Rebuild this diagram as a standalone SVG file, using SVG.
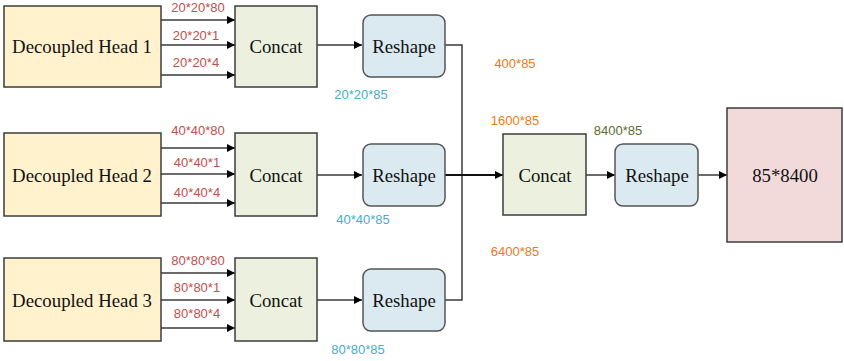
<svg xmlns="http://www.w3.org/2000/svg" width="844" height="361" viewBox="0 0 844 361">
<defs>
<marker id="ah" markerWidth="10" markerHeight="10" refX="9" refY="5" orient="auto" markerUnits="userSpaceOnUse">
<path d="M1,1 L9,5 L1,9 Z" fill="#000"/>
</marker>
<style>
.head{fill:#fff2cc;stroke:#3c3c3c;stroke-width:1.5}
.cat{fill:#ebf1de;stroke:#3c3c3c;stroke-width:1.5}
.rs{fill:#dbe9f1;stroke:#555;stroke-width:1.5}
.out{fill:#f3dada;stroke:#3c3c3c;stroke-width:1.5}
.nt{font-family:"Liberation Serif",serif;font-size:18.8px;fill:#111;text-anchor:middle;dominant-baseline:central}
.lb{font-family:"Liberation Sans",Arial,sans-serif;font-size:13px;text-anchor:middle;dominant-baseline:central}
.red{fill:#c0504d}
.blue{fill:#4bacc6}
.org{fill:#e97a1a}
.grn{fill:#5a6e2d}
.ln{fill:none;stroke:#3a3a3a;stroke-width:1.5}
.la{fill:none;stroke:#3a3a3a;stroke-width:1.5;marker-end:url(#ah)}
</style>
</defs>
<rect width="844" height="361" fill="#fff"/>
<g id="connectors">
<path class="la" d="M161,20 H235"/>
<path class="la" d="M161,45 H235"/>
<path class="la" d="M161,75 H235"/>
<path class="la" d="M161,148 H235"/>
<path class="la" d="M161,174 H235"/>
<path class="la" d="M161,203 H235"/>
<path class="la" d="M161,273 H235"/>
<path class="la" d="M161,300 H235"/>
<path class="la" d="M161,328 H235"/>
<path class="la" d="M317,45 H362"/>
<path class="la" d="M317,175 H362"/>
<path class="la" d="M317,300 H362"/>
<path class="ln" d="M445,45 H462 V300 H445"/>
<path class="la" d="M445,175 H503" style="stroke:#111;stroke-width:2"/>
<path class="la" d="M586,175 H615"/>
<path class="la" d="M698,175 H727"/>
</g>
<g id="head1"><rect class="head" x="4" y="6" width="157" height="81"/><text class="nt" x="82" y="46">Decoupled Head 1</text></g>
<g id="head2"><rect class="head" x="4" y="133" width="157" height="83"/><text class="nt" x="82" y="175">Decoupled Head 2</text></g>
<g id="head3"><rect class="head" x="4" y="258" width="157" height="83"/><text class="nt" x="82" y="300">Decoupled Head 3</text></g>
<g id="concat1"><rect class="cat" x="235" y="6" width="82" height="81"/><text class="nt" x="276" y="46">Concat</text></g>
<g id="concat2"><rect class="cat" x="235" y="133" width="82" height="83"/><text class="nt" x="276" y="175">Concat</text></g>
<g id="concat3"><rect class="cat" x="235" y="258" width="82" height="83"/><text class="nt" x="276" y="300">Concat</text></g>
<g id="reshape1"><rect class="rs" x="363" y="15" width="82" height="62" rx="8"/><text class="nt" x="404" y="46">Reshape</text></g>
<g id="reshape2"><rect class="rs" x="363" y="144" width="82" height="62" rx="8"/><text class="nt" x="404" y="175">Reshape</text></g>
<g id="reshape3"><rect class="rs" x="363" y="269" width="82" height="62" rx="8"/><text class="nt" x="404" y="300">Reshape</text></g>
<g id="concat4"><rect class="cat" x="503" y="134" width="83" height="81"/><text class="nt" x="545" y="175">Concat</text></g>
<g id="reshape4"><rect class="rs" x="615" y="144" width="83" height="62" rx="8"/><text class="nt" x="657" y="175">Reshape</text></g>
<g id="output"><rect class="out" x="727" y="108" width="115" height="134"/><text class="nt" x="785" y="175">85*8400</text></g>
<g id="labels">
<text class="lb red" x="198" y="7">20*20*80</text>
<text class="lb red" x="196" y="35">20*20*1</text>
<text class="lb red" x="196" y="62">20*20*4</text>
<text class="lb blue" x="361" y="94">20*20*85</text>
<text class="lb red" x="198" y="130">40*40*80</text>
<text class="lb red" x="197" y="162">40*40*1</text>
<text class="lb red" x="197" y="192">40*40*4</text>
<text class="lb blue" x="363" y="219">40*40*85</text>
<text class="lb red" x="198" y="260">80*80*80</text>
<text class="lb red" x="197" y="287">80*80*1</text>
<text class="lb red" x="197" y="313">80*80*4</text>
<text class="lb blue" x="358" y="349">80*80*85</text>
<text class="lb org" x="515" y="63">400*85</text>
<text class="lb org" x="515" y="120">1600*85</text>
<text class="lb org" x="515" y="251">6400*85</text>
<text class="lb grn" x="618" y="130">8400*85</text>
</g>
</svg>
